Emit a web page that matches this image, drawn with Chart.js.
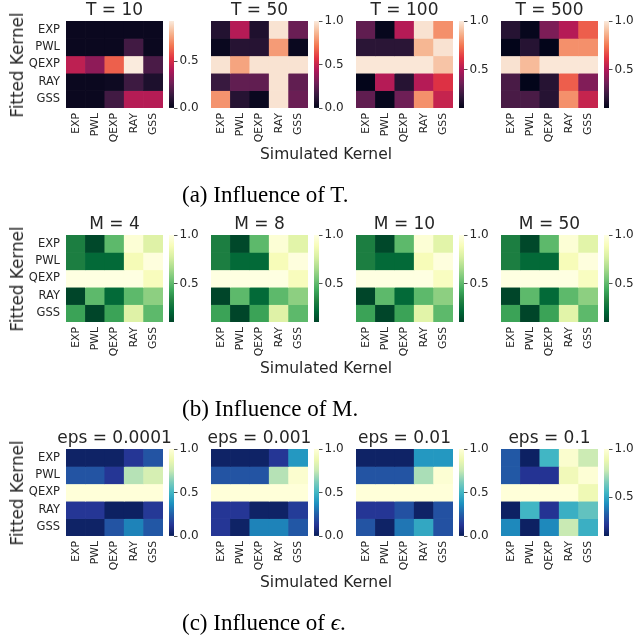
<!DOCTYPE html>
<html>
<head>
<meta charset="utf-8">
<script src="https://cdn.jsdelivr.net/npm/chart.js@4.4.0/dist/chart.umd.min.js"></script>
<style>
  body { margin: 0; background: #fff; width: 637px; height: 636px; position: relative; overflow: hidden;
         font-family: "DejaVu Sans", sans-serif; color: #262626; }
  canvas { position: absolute; }
  .lbl { position: absolute; font-size: 15.5px; white-space: nowrap; }
  .ylbl { position: absolute; font-size: 16.8px; white-space: nowrap; }
  .cap { position: absolute; font-family: "Liberation Serif", serif; font-size: 23px; color: #000; white-space: nowrap; }
</style>
</head>
<body>
<script>
// kernels (rows = fitted, columns = simulated)
const kernels = ['EXP', 'PWL', 'QEXP', 'RAY', 'GSS'];

// (a) influence of T
const tTitles = ['T = 10', 'T = 50', 'T = 100', 'T = 500'];
const tRanges = [[0, 0.93], [0, 1], [0.11, 1], [0.11, 1]];
const T10 = [
  [0.02, 0.02, 0.02, 0.02, 0.02],
  [0.02, 0.02, 0.02, 0.16, 0.02],
  [0.44, 0.33, 0.62, 0.93, 0.18],
  [0.02, 0.02, 0.03, 0.15, 0.07],
  [0.02, 0.02, 0.16, 0.42, 0.42]
];
const T50 = [
  [0.09, 0.45, 0.08, 0.98, 0.27],
  [0.02, 0.10, 0.10, 0.80, 0.02],
  [0.98, 0.82, 0.98, 0.98, 0.98],
  [0.15, 0.25, 0.25, 0.98, 0.25],
  [0.78, 0.10, 0.02, 0.98, 0.27]
];
const T100 = [
  [0.33, 0.12, 0.51, 0.98, 0.80],
  [0.21, 0.21, 0.21, 0.88, 0.98],
  [0.99, 0.99, 0.99, 0.99, 0.91],
  [0.11, 0.51, 0.20, 0.51, 0.61],
  [0.33, 0.12, 0.36, 0.80, 0.55]
];
const T500 = [
  [0.20, 0.12, 0.39, 0.51, 0.70],
  [0.11, 0.20, 0.11, 0.80, 0.80],
  [0.98, 0.89, 0.99, 0.99, 0.99],
  [0.28, 0.11, 0.20, 0.70, 0.40],
  [0.28, 0.28, 0.20, 0.80, 0.55]
];

// (b) influence of M
const mTitles = ['M = 4', 'M = 8', 'M = 10', 'M = 50'];
const mRanges = [[0.11, 1], [0.11, 1], [0.11, 1], [0.11, 1]];
const M4 = [
  [0.31, 0.12, 0.50, 0.96, 0.80],
  [0.31, 0.23, 0.23, 0.88, 0.98],
  [0.99, 0.99, 0.99, 0.99, 0.90],
  [0.11, 0.50, 0.23, 0.50, 0.60],
  [0.42, 0.11, 0.42, 0.80, 0.50]
];
const M8 = [
  [0.31, 0.12, 0.50, 0.96, 0.81],
  [0.31, 0.23, 0.23, 0.89, 0.98],
  [0.99, 0.99, 0.99, 0.99, 0.90],
  [0.11, 0.50, 0.23, 0.50, 0.60],
  [0.42, 0.11, 0.42, 0.80, 0.50]
];
const M10 = [
  [0.31, 0.12, 0.50, 0.96, 0.81],
  [0.31, 0.23, 0.23, 0.89, 0.98],
  [0.99, 0.99, 0.99, 0.99, 0.91],
  [0.11, 0.50, 0.23, 0.50, 0.60],
  [0.42, 0.11, 0.42, 0.81, 0.50]
];
const M50 = [
  [0.31, 0.12, 0.50, 0.96, 0.81],
  [0.31, 0.23, 0.23, 0.89, 0.98],
  [0.99, 0.99, 0.99, 0.99, 0.91],
  [0.11, 0.50, 0.23, 0.50, 0.60],
  [0.42, 0.11, 0.42, 0.81, 0.50]
];

// (c) influence of eps
const eTitles = ['eps = 0.0001', 'eps = 0.001', 'eps = 0.01', 'eps = 0.1'];
const eRanges = [[0, 1], [0, 1], [0, 1], [0.1, 1]];
const E0001 = [
  [0.03, 0.03, 0.03, 0.13, 0.22],
  [0.22, 0.22, 0.13, 0.72, 0.80],
  [1.00, 1.00, 1.00, 1.00, 1.00],
  [0.13, 0.13, 0.02, 0.02, 0.14],
  [0.03, 0.03, 0.22, 0.34, 0.23]
];
const E001 = [
  [0.03, 0.03, 0.03, 0.13, 0.40],
  [0.22, 0.22, 0.22, 0.72, 0.97],
  [1.00, 1.00, 1.00, 1.00, 1.00],
  [0.13, 0.13, 0.03, 0.03, 0.15],
  [0.13, 0.03, 0.34, 0.34, 0.23]
];
const E01 = [
  [0.03, 0.03, 0.03, 0.40, 0.40],
  [0.22, 0.22, 0.22, 0.70, 0.98],
  [1.00, 1.00, 1.00, 1.00, 1.00],
  [0.13, 0.13, 0.21, 0.03, 0.21],
  [0.22, 0.03, 0.31, 0.45, 0.21]
];
const E1 = [
  [0.31, 0.12, 0.55, 0.97, 0.79],
  [0.31, 0.21, 0.21, 0.91, 0.99],
  [1.00, 1.00, 1.00, 1.00, 0.90],
  [0.12, 0.55, 0.21, 0.53, 0.61],
  [0.42, 0.12, 0.42, 0.78, 0.53]
];

// colour maps
const rocket = [[0, '#03051A'], [1/7, '#35193E'], [2/7, '#701F57'], [3/7, '#AD1759'],
                [4/7, '#E13342'], [5/7, '#F37651'], [6/7, '#F6B48F'], [1, '#FAEBDD']];
const ylgn = ['#004529', '#006837', '#238443', '#41ab5d', '#78c679', '#addd8e', '#d9f0a3', '#f7fcb9', '#ffffe5']
  .map((c, i) => [i / 8, c]);
const ylgnbu = ['#081d58', '#253494', '#225ea8', '#1d91c0', '#41b6c4', '#7fcdbb', '#c7e9b4', '#edf8b1', '#ffffd9']
  .map((c, i) => [i / 8, c]);

function hex(c) { return [1, 3, 5].map(i => parseInt(c.substr(i, 2), 16)); }
function cmap(stops, t) {
  t = Math.max(0, Math.min(1, t));
  for (let i = 1; i < stops.length; i++) {
    if (t <= stops[i][0]) {
      const f = (t - stops[i-1][0]) / (stops[i][0] - stops[i-1][0]);
      const a = hex(stops[i-1][1]), b = hex(stops[i][1]);
      return 'rgb(' + a.map((v, k) => Math.round(v + (b[k] - v) * f)).join(',') + ')';
    }
  }
  return stops[stops.length - 1][1];
}

const colX = [66, 211, 356, 501];
const rowY = [21, 235, 449];
const hmW = 97, hmH = 87;
const ink = '#262626';

const rows = [
  {titles: tTitles, ranges: tRanges, values: [T10, T50, T100, T500], map: rocket},
  {titles: mTitles, ranges: mRanges, values: [M4, M8, M10, M50], map: ylgn},
  {titles: eTitles, ranges: eRanges, values: [E0001, E001, E01, E1], map: ylgnbu}
];

function addCanvas(left, top, w, h) {
  const c = document.createElement('canvas');
  c.width = w; c.height = h;
  c.style.left = left + 'px'; c.style.top = top + 'px';
  c.style.width = w + 'px'; c.style.height = h + 'px';
  document.body.appendChild(c);
  return c;
}

function addText(cls, html, left, top, transform) {
  const d = document.createElement('div');
  d.className = cls; d.innerHTML = html;
  d.style.left = left + 'px'; d.style.top = top + 'px';
  d.style.transform = transform;
  document.body.appendChild(d);
}

function heatmap(title, values, range, map, col, hy) {
  // side = width of the (left) tick-label axis; a hidden axis of the same width on the right keeps the title centred
  const side = col === 0 ? colX[0] : 20;
  const c = addCanvas(colX[col] - side, hy - 22, hmW + 2 * side, 22 + hmH + 45);
  new Chart(c, {
    type: 'bar',
    data: {
      labels: kernels,
      datasets: values.map((row, i) => ({
        label: kernels[i],
        data: row.map(() => 1),
        backgroundColor: row.map(v => cmap(map, (v - range[0]) / (range[1] - range[0]))),
        borderWidth: 0,
        barPercentage: 1,
        categoryPercentage: 1
      }))
    },
    options: {
      responsive: false,
      animation: false,
      layout: { padding: { left: 0, right: 0, top: 1.6, bottom: 0 } },
      plugins: {
        legend: { display: false },
        tooltip: { enabled: false },
        title: {
          display: true, text: title, color: ink,
          font: { family: 'DejaVu Sans', size: 17, weight: 'normal' },
          padding: { top: 0, bottom: 0 }
        }
      },
      scales: {
        x: {
          stacked: true,
          grid: { display: false, drawTicks: false, tickLength: 0 },
          border: { display: false },
          ticks: { autoSkip: false, minRotation: 90, maxRotation: 90, padding: 5, color: ink,
                   font: { family: 'DejaVu Sans', size: 10.8 } },
          afterFit: s => { s.height = 45; }
        },
        y: {
          stacked: true, reverse: true, min: 0, max: 5,
          display: col === 0,
          grid: { display: false, drawTicks: false, tickLength: 0 },
          border: { display: false },
          afterBuildTicks: s => { s.ticks = kernels.map((k, i) => ({ value: i + 0.5 })); },
          ticks: { callback: v => kernels[Math.floor(v)], padding: 6, color: ink,
                   font: { family: 'DejaVu Sans', size: 11.5 } },
          afterFit: s => { s.width = side; }
        },
        y2: {
          position: 'right', display: false,
          afterFit: s => { s.width = side; }
        }
      }
    }
  });
}

function colorbar(range, map, col, hy) {
  const c = addCanvas(colX[col] + 103, hy - 10, 5 + 32, hmH + 20);
  new Chart(c, {
    type: 'bar',
    data: {
      labels: [''],
      datasets: [{
        data: [range],
        backgroundColor: ctx => {
          const a = ctx.chart.chartArea;
          if (!a) return map[0][1];
          const g = ctx.chart.ctx.createLinearGradient(0, a.bottom, 0, a.top);
          map.forEach(s => g.addColorStop(s[0], s[1]));
          return g;
        },
        borderWidth: 0,
        barPercentage: 1,
        categoryPercentage: 1
      }]
    },
    options: {
      responsive: false,
      animation: false,
      layout: { padding: { top: 10, bottom: 10, left: 0, right: 0 } },
      plugins: { legend: { display: false }, tooltip: { enabled: false } },
      scales: {
        x: { display: false },
        y: {
          position: 'right', min: range[0], max: range[1],
          grid: { drawOnChartArea: false, tickLength: 3.5, color: ink, lineWidth: 0.8 },
          border: { display: false },
          ticks: { stepSize: 0.5, includeBounds: false, padding: 2, color: ink,
                   font: { family: 'DejaVu Sans', size: 12 }, callback: v => v.toFixed(1) },
          afterFit: s => { s.width = 32; }
        }
      }
    }
  });
}

const captions = ['(a) Influence of T.', '(b) Influence of M.', '(c) Influence of <i>&#x3f5;</i>.'];

rows.forEach((r, ri) => {
  const hy = rowY[ri];
  r.values.forEach((vals, ci) => {
    heatmap(r.titles[ci], vals, r.ranges[ci], r.map, ci, hy);
    colorbar(r.ranges[ci], r.map, ci, hy);
  });
  addText('ylbl', 'Fitted Kernel', 17, hy + hmH / 2, 'translate(-50%,-50%) rotate(-90deg)');
  addText('lbl', 'Simulated Kernel', 326, hy + 133, 'translate(-50%,-50%)');
  addText('cap', captions[ri], 182, hy + 174, 'translateY(-50%)');
});
</script>
</body>
</html>
